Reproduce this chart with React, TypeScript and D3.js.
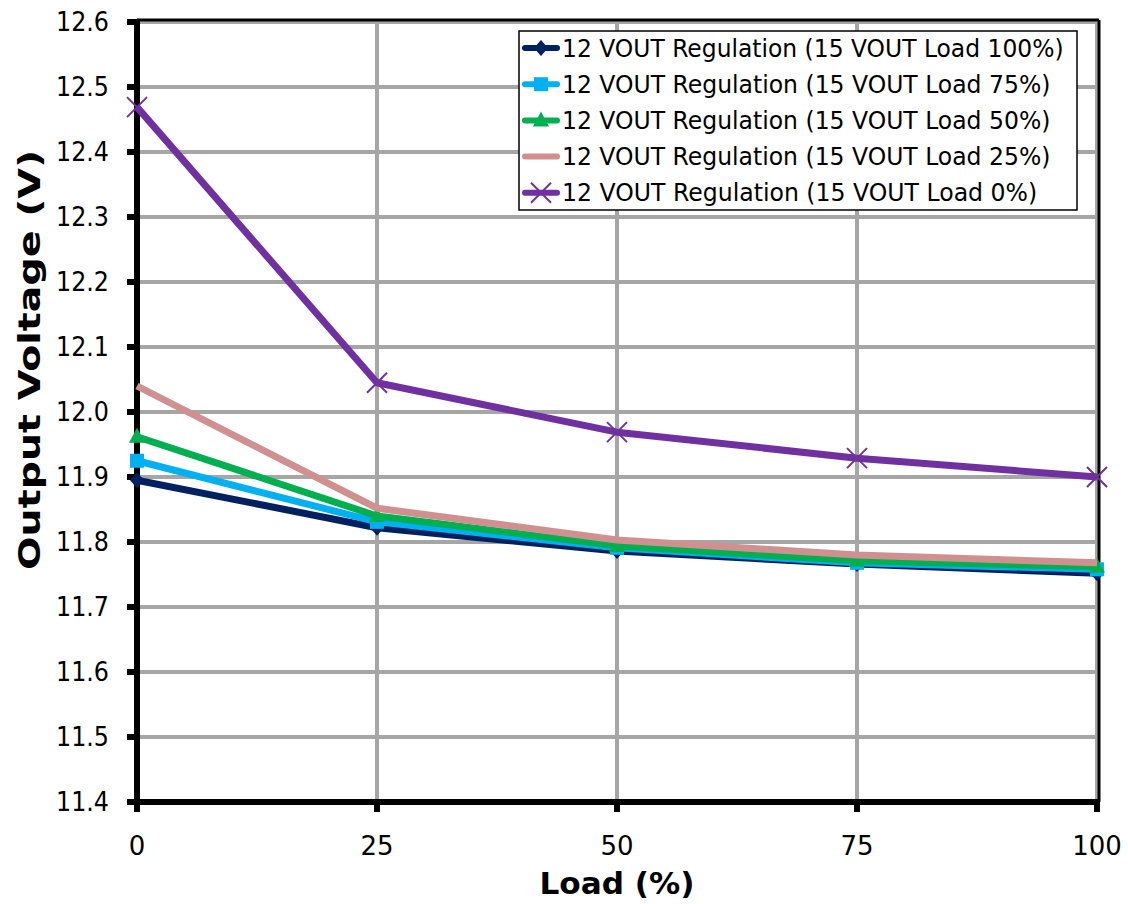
import React, { useEffect, useRef } from "react";
import * as d3 from "d3";

const loads = [0, 25, 50, 75, 100];
const load100 = [11.895, 11.822, 11.786, 11.766, 11.752];
const load75 = [11.925, 11.831, 11.791, 11.768, 11.758];
const load50 = [11.962, 11.84, 11.794, 11.771, 11.762];
const load25 = [12.04, 11.852, 11.803, 11.78, 11.768];
const load0 = [12.469, 12.045, 11.969, 11.929, 11.9];
const yTicks = [11.4, 11.5, 11.6, 11.7, 11.8, 11.9, 12.0, 12.1, 12.2, 12.3, 12.4, 12.5, 12.6];

const seriesList = [
  { name: "12 VOUT Regulation (15 VOUT Load 100%)", values: load100, color: "#002060", marker: "diamond" },
  { name: "12 VOUT Regulation (15 VOUT Load 75%)", values: load75, color: "#00b0f0", marker: "square" },
  { name: "12 VOUT Regulation (15 VOUT Load 50%)", values: load50, color: "#00b050", marker: "triangle" },
  { name: "12 VOUT Regulation (15 VOUT Load 25%)", values: load25, color: "#d09090", marker: "none" },
  { name: "12 VOUT Regulation (15 VOUT Load 0%)", values: load0, color: "#7030a0", marker: "x" },
];

const W = 1128, H = 904;
const m = { left: 137, right: 1097, top: 22, bottom: 802 };
const font = "'DejaVu Sans', Verdana, sans-serif";

function drawMarker(g, type, color, cx, cy) {
  if (type === "diamond") {
    g.append("path").attr("d", `M${cx},${cy - 8}L${cx + 7},${cy}L${cx},${cy + 8}L${cx - 7},${cy}Z`).attr("fill", color);
  } else if (type === "square") {
    g.append("rect").attr("x", cx - 7).attr("y", cy - 7).attr("width", 14).attr("height", 14).attr("fill", color);
  } else if (type === "triangle") {
    g.append("path").attr("d", `M${cx},${cy - 9}L${cx + 8},${cy + 6}L${cx - 8},${cy + 6}Z`).attr("fill", color);
  } else if (type === "x") {
    g.append("path").attr("d", `M${cx - 10},${cy - 10}L${cx + 10},${cy + 10}M${cx - 10},${cy + 10}L${cx + 10},${cy - 10}`)
      .attr("stroke", color).attr("stroke-width", 2);
  }
}

export default function App() {
  const ref = useRef(null);

  useEffect(() => {
    const svg = d3.select(ref.current);
    svg.selectAll("*").remove();

    const x = d3.scaleLinear().domain([0, 100]).range([m.left, m.right]);
    const y = d3.scaleLinear().domain([11.4, 12.6]).range([m.bottom, m.top]);

    svg.append("rect").attr("width", W).attr("height", H).attr("fill", "#fff");

    // gridlines
    const grid = svg.append("g");
    loads.forEach(v => {
      grid.append("line").attr("x1", x(v)).attr("x2", x(v)).attr("y1", m.top).attr("y2", m.bottom)
        .attr("stroke", "#a6a6a6").attr("stroke-width", 4);
    });
    yTicks.forEach(v => {
      grid.append("line").attr("x1", m.left).attr("x2", m.right).attr("y1", y(v)).attr("y2", y(v))
        .attr("stroke", "#a6a6a6").attr("stroke-width", 4);
    });

    // plot border (top / right)
    svg.append("line").attr("x1", m.left).attr("x2", m.right + 2).attr("y1", m.top - 2).attr("y2", m.top - 2)
      .attr("stroke", "#000").attr("stroke-width", 3);
    svg.append("line").attr("x1", m.right + 2).attr("x2", m.right + 2).attr("y1", m.top - 2).attr("y2", m.bottom)
      .attr("stroke", "#000").attr("stroke-width", 3);

    // axes
    const ax = svg.append("g");
    ax.append("line").attr("x1", m.left).attr("x2", m.left).attr("y1", m.top - 2).attr("y2", m.bottom + 10)
      .attr("stroke", "#000").attr("stroke-width", 6);
    ax.append("line").attr("x1", m.left - 10).attr("x2", m.right + 3).attr("y1", m.bottom).attr("y2", m.bottom)
      .attr("stroke", "#000").attr("stroke-width", 6);
    yTicks.forEach(v => {
      ax.append("line").attr("x1", m.left - 10).attr("x2", m.left).attr("y1", y(v)).attr("y2", y(v))
        .attr("stroke", "#000").attr("stroke-width", 6);
      ax.append("text").attr("x", 109).attr("y", y(v)).attr("dy", "0.36em").attr("text-anchor", "end")
        .attr("font-family", font).attr("font-size", 26).attr("textLength", 53).attr("lengthAdjust", "spacingAndGlyphs")
        .text(v.toFixed(1));
    });
    loads.forEach(v => {
      ax.append("text").attr("x", x(v)).attr("y", 855).attr("text-anchor", "middle")
        .attr("font-family", font).attr("font-size", 26).text(v);
      ax.append("line").attr("x1", x(v)).attr("x2", x(v)).attr("y1", m.bottom).attr("y2", m.bottom + 10)
        .attr("stroke", "#000").attr("stroke-width", 6);
    });

    svg.append("text").attr("x", 617).attr("y", 894).attr("text-anchor", "middle")
      .attr("font-family", font).attr("font-size", 30).attr("font-weight", "bold")
      .attr("textLength", 155).attr("lengthAdjust", "spacingAndGlyphs").text("Load (%)");
    svg.append("text").attr("transform", "translate(40,360) rotate(-90)").attr("text-anchor", "middle")
      .attr("font-family", font).attr("font-size", 30).attr("font-weight", "bold")
      .attr("textLength", 420).attr("lengthAdjust", "spacingAndGlyphs").text("Output Voltage (V)");

    // series
    const line = d3.line().x((d, i) => x(loads[i])).y(d => y(d));
    seriesList.forEach(s => {
      const g = svg.append("g");
      g.append("path").datum(s.values).attr("d", line).attr("fill", "none")
        .attr("stroke", s.color).attr("stroke-width", 7).attr("stroke-linejoin", "round");
      s.values.forEach((v, i) => drawMarker(g, s.marker, s.color, x(loads[i]), y(v)));
    });

    // legend
    const lg = svg.append("g");
    lg.append("rect").attr("x", 519).attr("y", 31).attr("width", 558).attr("height", 179)
      .attr("fill", "#fff").attr("stroke", "#000").attr("stroke-width", 1.5);
    seriesList.forEach((s, i) => {
      const cy = 48 + i * 36.2;
      lg.append("line").attr("x1", 525).attr("x2", 557).attr("y1", cy).attr("y2", cy)
        .attr("stroke", s.color).attr("stroke-width", 6).attr("stroke-linecap", "round");
      drawMarker(lg, s.marker, s.color, 541, cy);
      lg.append("text").attr("x", 562).attr("y", cy).attr("dy", "0.36em")
        .attr("font-family", font).attr("font-size", 24)
        .attr("textLength", s.name.length * 13.2).attr("lengthAdjust", "spacingAndGlyphs")
        .text(s.name);
    });
  }, []);

  return (
    <svg ref={ref} width={W} height={H} style={{ position: "absolute", left: 0, top: 0 }}></svg>
  );
}
